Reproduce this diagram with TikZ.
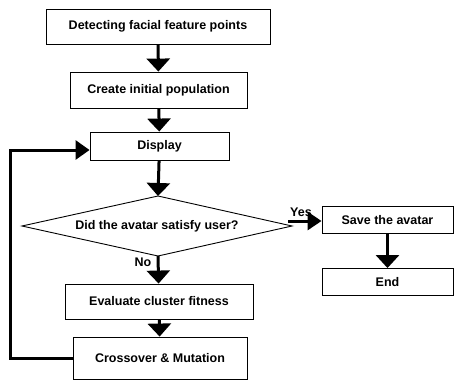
\documentclass[tikz,border=0pt]{standalone}
\usepackage{fontspec}
\setmainfont{Liberation Sans}
\usetikzlibrary{arrows.meta}
\begin{document}
\begin{tikzpicture}[x=1pt,y=-1pt,
  txt/.style={font=\bfseries\fontsize{12.5}{14}\selectfont},
  box/.style={draw,line width=0.9pt,txt,inner sep=0pt},
  flow/.style={line width=3pt,-{Triangle[width=23pt,length=13pt]}},
  lab/.style={txt,inner sep=0pt}]
\useasboundingbox (0,0) rectangle (455,381);
\node[box,minimum width=224,minimum height=35] (detect) at (158,26.5) {Detecting facial feature points};
\node[box,minimum width=177,minimum height=36] (create) at (158.5,90) {Create initial population};
\node[box,minimum width=139,minimum height=28] (display) at (159.5,146) {Display};
\coordinate (dtop) at (158,196);
\coordinate (dbot) at (158,256);
\coordinate (dleft) at (22,226);
\coordinate (dright) at (292,226);
\draw[line width=0.9pt] (dtop) -- (dright) -- (dbot) -- (dleft) -- cycle;
\node[txt,inner sep=0pt] (dec) at (157,226) {Did the avatar satisfy user?};
\node[box,minimum width=131,minimum height=27] (save) at (387.5,220) {Save the avatar};
\node[box,minimum width=131,minimum height=27] (end) at (387.5,282) {End};
\node[box,minimum width=188,minimum height=35] (eval) at (159,301.5) {Evaluate cluster fitness};
\node[box,minimum width=174,minimum height=42] (cross) at (160,358) {Crossover \& Mutation};
\coordinate (ys) at (288,221);
\coordinate (c1) at (10,358);
\coordinate (c2) at (10,150);
\draw[flow] (detect) -- (create);
\draw[flow] (create) -- (display);
\draw[flow] (display) -- (dtop);
\draw[flow,-{Triangle[width=18pt,length=14pt]}] (ys) -- (ys -| save.west);
\draw[flow] (dbot) -- (eval);
\draw[flow] (eval) -- (cross);
\draw[flow] (save) -- (end);
\draw[flow,-{Triangle[width=19pt,length=14pt]}] (cross.west) -- (c1) -- (c2) -- (c2 -| display.west);
\node[lab] (yes) at (301,212) {Yes};
\node[lab] (no) at (143,262) {No};
\end{tikzpicture}
\end{document}
